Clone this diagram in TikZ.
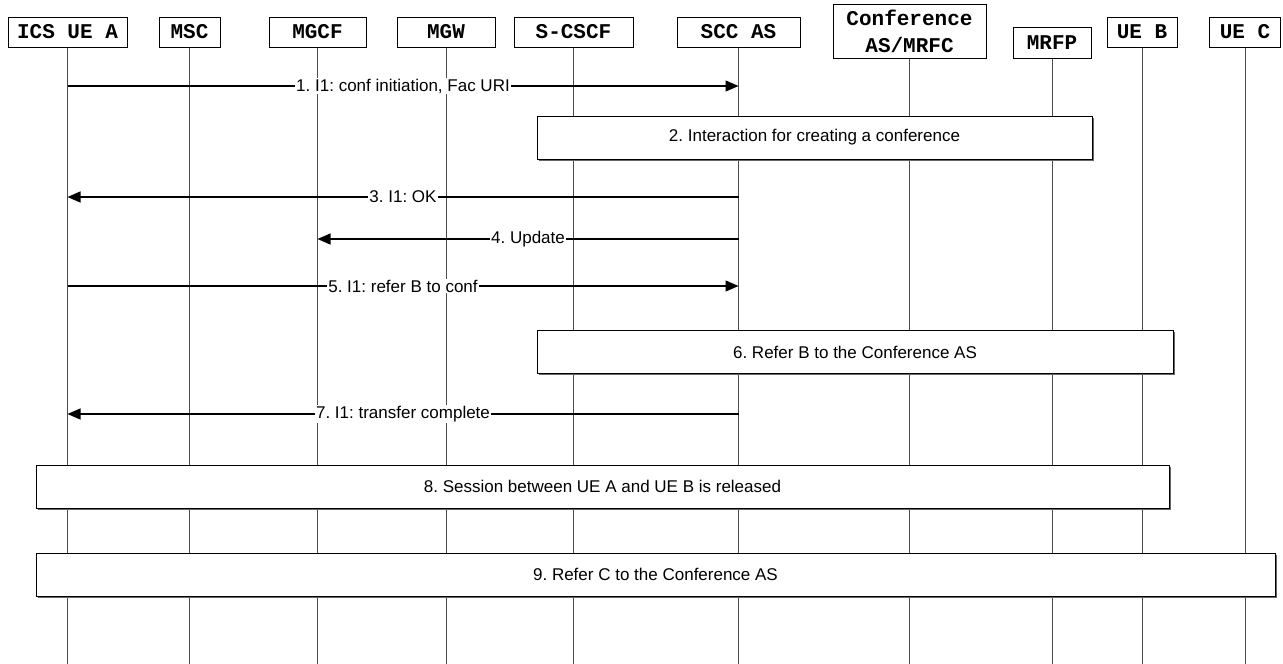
\documentclass[tikz,border=0pt]{standalone}
\usepackage{fontspec}
\setmainfont{Liberation Sans}
\setmonofont{Liberation Mono}
\usetikzlibrary{arrows.meta, positioning, shadows}
\frenchspacing

\begin{document}
\begin{tikzpicture}[x=1pt, y=-1pt,
    entity/.style={draw, line width=1pt, inner sep=0pt, minimum height=30pt, align=center, font=\ttfamily\bfseries\fontsize{21}{27}\selectfont},
    life/.style={draw=black!70, line width=0.9pt},
    msg/.style={line width=1.3pt, -{Triangle[length=13pt, width=11pt]}},
    lbl/.style={fill=white, inner sep=1pt, font=\fontsize{17}{20}\selectfont},
    stepbox/.style={draw, line width=1pt, fill=white, minimum height=43pt, font=\fontsize{17}{20}\selectfont, drop shadow={shadow xshift=1.5pt, shadow yshift=-1.5pt, fill=black!60, opacity=1}}]
    \useasboundingbox (0,0) rectangle (1283,664);

    % Participants
    \node (uea) [entity, minimum width=119pt] at (67.5,32) {ICS UE A};
    \node (msc) [entity, minimum width=61pt] at (189.5,32) {MSC};
    \node (mgcf) [entity, minimum width=97pt] at (317.5,32) {MGCF};
    \node (mgw) [entity, minimum width=98pt] at (446,32) {MGW};
    \node (scscf) [entity, minimum width=119pt] at (573.5,32) {S-CSCF};
    \node (scc) [entity, minimum width=123pt] at (738.5,32) {SCC AS};
    \node (conf) [entity, minimum width=153pt, minimum height=54pt] at (909.5,31) {Conference\\AS/MRFC};
    \node (mrfp) [entity, minimum width=78pt, minimum height=31pt] at (1052,43) {MRFP};
    \node (ueb) [entity, minimum width=70pt] at (1142,32) {UE B};
    \node (uec) [entity, minimum width=71pt] at (1245,32) {UE C};

    % Lifelines
    \coordinate (bottom) at (0,664);
    \foreach \p in {uea, msc, mgcf, mgw, scscf, scc, conf, mrfp, ueb, uec}
        \draw[life] (\p) -- (\p |- bottom);

    % Message rows
    \coordinate (m1) at (0,86);
    \coordinate (m3) at (0,197);
    \coordinate (m4) at (0,239);
    \coordinate (m5) at (0,286);
    \coordinate (m7) at (0,414);

    \draw[msg] (uea |- m1) -- (scc |- m1) node[midway, lbl] {1. I1: conf initiation, Fac URI};
    \node (step2) [stepbox, minimum width=555pt] at (814.5,137.5) {2. Interaction for creating a conference};
    \draw[msg] (scc |- m3) -- (uea |- m3) node[midway, lbl] {3. I1: OK};
    \draw[msg] (scc |- m4) -- (mgcf |- m4) node[midway, lbl] {4. Update};
    \draw[msg] (uea |- m5) -- (scc |- m5) node[midway, lbl] {5. I1: refer B to conf};
    \node (step6) [stepbox, minimum width=636pt] at (855,352) {6. Refer B to the Conference AS};
    \draw[msg] (scc |- m7) -- (uea |- m7) node[midway, lbl] {7. I1: transfer complete};
    \node (step8) [stepbox, minimum width=1133pt] at (602.5,486.5) {8. Session between UE A and UE B is released};
    \node (step9) [stepbox, minimum width=1239pt] at (655.5,574.5) {9. Refer C to the Conference AS};
\end{tikzpicture}
\end{document}
